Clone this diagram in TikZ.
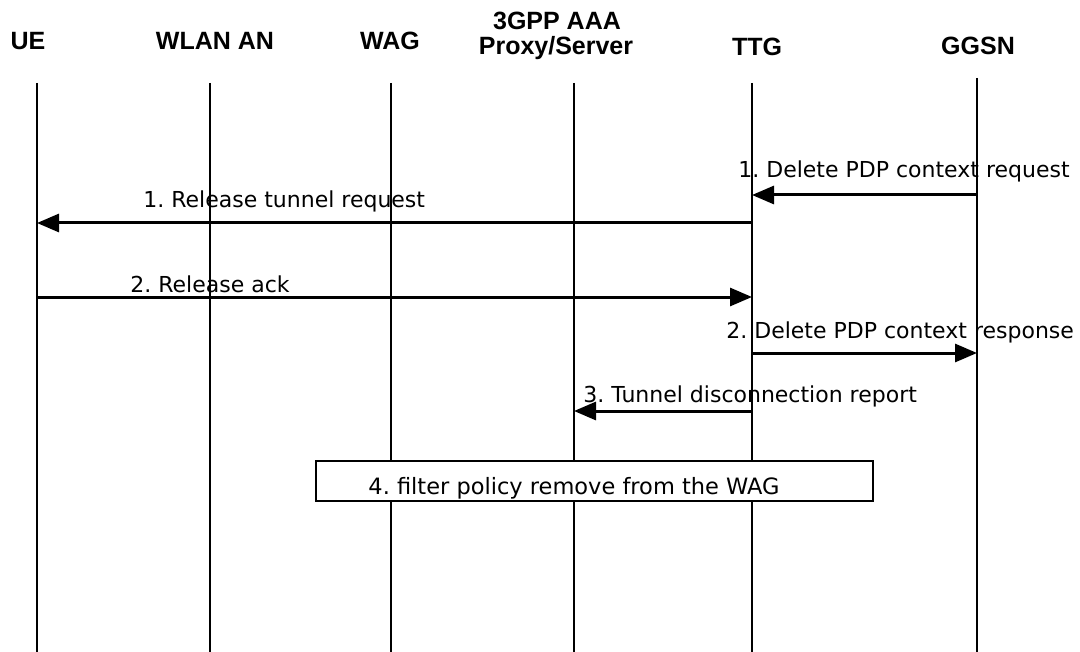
\documentclass[tikz,border=0pt]{standalone}
\usepackage{fontspec}
\setmainfont{DejaVu Sans}
\newfontfamily\headfont{Liberation Sans}
\usetikzlibrary{arrows.meta}

\begin{document}
\frenchspacing
\begin{tikzpicture}[x=0.5pt, y=-0.5pt,
		entity/.style={font=\headfont\bfseries\fontsize{12.5}{13}\selectfont, inner sep=0pt, align=center},
		lifeline/.style={line width=0.65pt},
		message/.style={line width=1.5pt, -{Triangle[length=11pt, width=9pt]}},
		msglabel/.style={font=\fontsize{11}{13}\selectfont, inner sep=0pt, anchor=base west},
		actionbox/.style={draw, line width=0.65pt, fill=white}]
		\useasboundingbox (0,0) rectangle (1080,652);
		
		% entities
		\node[entity, anchor=base] (ue) at (28,50) {UE};
		\node[entity, anchor=base] (wlan) at (215,50) {WLAN AN};
		\node[entity, anchor=base] (wag) at (390,50) {WAG};
		\node[entity, anchor=base] (aaa1) at (557,30) {3GPP AAA};
		\node[entity, anchor=base] (aaa) at (556,55) {Proxy/Server};
		\node[entity, anchor=base] (ttg) at (757,56) {TTG};
		\node[entity, anchor=base] (ggsn) at (978,55) {GGSN};
		
		% lifelines
		\coordinate (ueT) at (37,83);    \coordinate (ueB) at (37,652);
		\coordinate (wlanT) at (210,83); \coordinate (wlanB) at (210,652);
		\coordinate (wagT) at (391,83);  \coordinate (wagB) at (391,652);
		\coordinate (aaaT) at (574,83);  \coordinate (aaaB) at (574,652);
		\coordinate (ttgT) at (752,83);  \coordinate (ttgB) at (752,652);
		\coordinate (ggsnT) at (977,78); \coordinate (ggsnB) at (977,652);
		\draw[lifeline] (ueT) -- (ueB);
		\draw[lifeline] (wlanT) -- (wlanB);
		\draw[lifeline] (wagT) -- (wagB);
		\draw[lifeline] (aaaT) -- (aaaB);
		\draw[lifeline] (ttgT) -- (ttgB);
		\draw[lifeline] (ggsnT) -- (ggsnB);
		
		% messages
		\draw[message] (ggsnT |- 0,195) coordinate (m1s) -- (ttgT |- 0,195) coordinate (m1e);
		\node[msglabel] (m1) at (738,177) {1. Delete PDP context request};
		
		\draw[message] (ttgT |- 0,223) coordinate (m2s) -- (ueT |- 0,223) coordinate (m2e);
		\node[msglabel] (m2) at (143,207) {1. Release tunnel request};
		
		\draw[message] (ueT |- 0,297) coordinate (m3s) -- (ttgT |- 0,297) coordinate (m3e);
		\node[msglabel] (m3) at (130,292) {2. Release ack};
		
		\draw[message] (ttgT |- 0,353) coordinate (m4s) -- (ggsnT |- 0,353) coordinate (m4e);
		\node[msglabel] (m4) at (726,338) {2. Delete PDP context response};
		
		\draw[message] (ttgT |- 0,411) coordinate (m5s) -- (aaaT |- 0,411) coordinate (m5e);
		\node[msglabel] (m5) at (583,402) {3. Tunnel disconnection report};
		
		% filter policy
		\node[actionbox, minimum width=278.5pt, minimum height=20pt] (filter) at (594.5,481) {};
		\node[msglabel, anchor=base, font=\fontsize{11.25}{13}\selectfont] (m6) at (574,494) {4. filter policy remove from the WAG};
\end{tikzpicture}
\end{document}
